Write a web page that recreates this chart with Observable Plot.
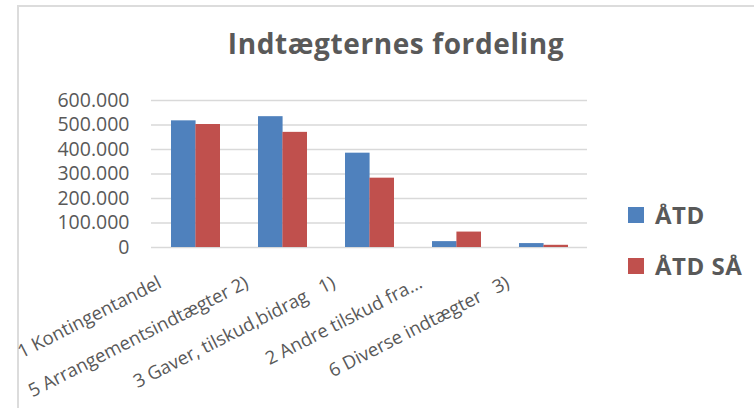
<!DOCTYPE html>
<html>
<head>
<meta charset="utf-8">
<script src="https://cdn.jsdelivr.net/npm/d3@7"></script>
<script src="https://cdn.jsdelivr.net/npm/@observablehq/plot@0.6"></script>
<style>
  html, body { margin: 0; padding: 0; background: #fff; }
  #wrap { position: relative; width: 754px; height: 408px; overflow: hidden; font-family: "Open Sans", sans-serif; }
  #frame { position: absolute; left: 17px; top: 5px; width: 760px; height: 420px; border-left: 2px solid #dcdcdc; border-top: 2px solid #dcdcdc; }
  #title { position: absolute; left: 0; width: 792px; top: 24px; text-align: center; font-weight: 700; font-size: 28px; letter-spacing: 0.6px; color: #595959; }
  .leg { position: absolute; left: 628px; display: flex; align-items: center; font-weight: 700; font-size: 24px; letter-spacing: 0.5px; color: #595959; }
  .sw { width: 16px; height: 16px; margin-right: 11px; }
  #chart { position: absolute; left: 0; top: 0; }
</style>
</head>
<body>
<div id="wrap">
  <div id="frame"></div>
  <div id="chart"></div>
  <div id="title">Indtægternes fordeling</div>
  <div class="leg" style="top:198px"><div class="sw" style="background:#4f81bd"></div>ÅTD</div>
  <div class="leg" style="top:249px"><div class="sw" style="background:#c0504d"></div>ÅTD SÅ</div>
</div>
<script>
const categories = ["1 Kontingentandel", "5 Arrangementsindtægter 2)", "3 Gaver, tilskud,bidrag   1)", "2 Andre tilskud fra...", "6 Diverse indtægter   3)"];
const atd   = [517000, 534000, 385000, 24000, 16000];
const atdSa = [502000, 470000, 283000, 63000, 9000];
const yTicks = [0, 100000, 200000, 300000, 400000, 500000, 600000];

const rowsA = categories.map((c, i) => ({cat: c, v: atd[i]}));
const rowsB = categories.map((c, i) => ({cat: c, v: atdSa[i]}));

const loc = d3.formatLocale({decimal: ",", thousands: ".", grouping: [3], currency: ["", ""]});
const fmt = loc.format(",d");

const W = 754, H = 408;
const mL = 151, mR = 167;
const step = (W - mL - mR) / 5;
const bw = step * 0.56;

const chart = Plot.plot({
  width: W, height: H,
  marginLeft: mL, marginRight: mR, marginTop: 100, marginBottom: 161,
  style: {fontFamily: "Open Sans, sans-serif", background: "transparent"},
  x: {domain: categories, paddingInner: 0.44, paddingOuter: 0.22, axis: null, label: null},
  y: {domain: [0, 600000], axis: null, label: null},
  marks: [
    Plot.ruleY(yTicks, {stroke: "#d9d9d9", strokeWidth: 1.5}),
    Plot.barY(rowsA, {x: "cat", y: "v", fill: "#4f81bd", insetRight: bw / 2}),
    Plot.barY(rowsB, {x: "cat", y: "v", fill: "#c0504d", insetLeft: bw / 2}),
    Plot.axisY(yTicks, {tickFormat: fmt, tickSize: 0, tickPadding: 0, dx: -22, fontSize: 19.5, fill: "#595959", textAnchor: "end", label: null}),
    Plot.axisX({tickSize: 0, tickRotate: -27, fontSize: 18.5, fill: "#595959", tickPadding: 34, dx: -36, label: null})
  ]
});
document.getElementById("chart").appendChild(chart);
</script>
</body>
</html>
